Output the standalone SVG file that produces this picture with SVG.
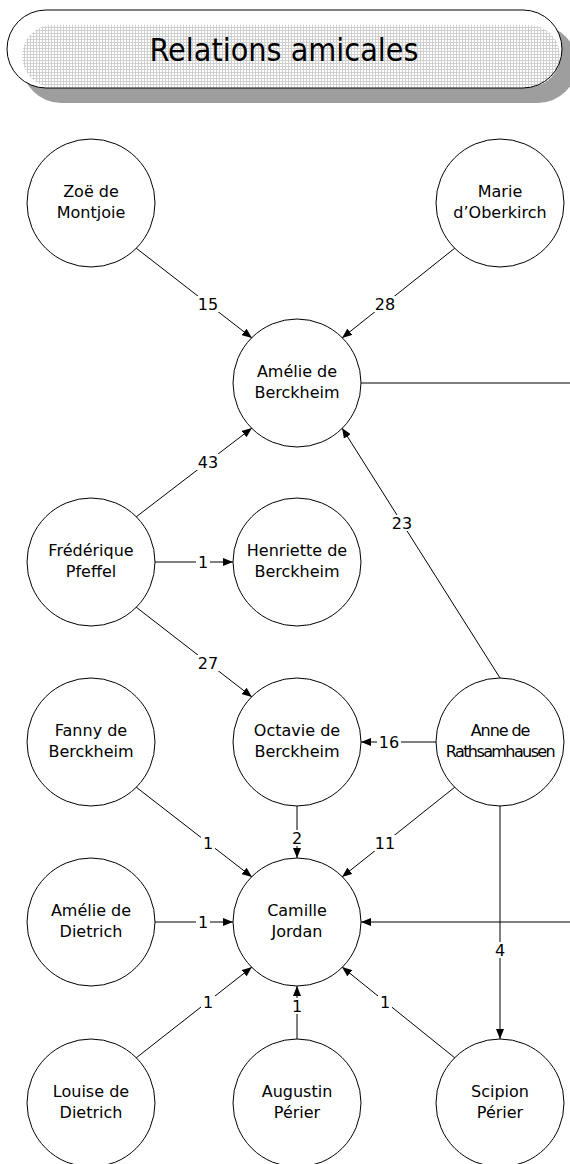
<svg xmlns="http://www.w3.org/2000/svg" width="570" height="1164" viewBox="0 0 570 1164">
  <style>
    .node circle { fill: #ffffff; stroke: #000000; stroke-width: 1; }
    .node text { font-family: "DejaVu Sans", Verdana, sans-serif; font-size: 16px; fill: #000000; text-anchor: middle; }
    .edge { stroke: #000000; stroke-width: 1; fill: none; }
    .arrow { marker-end: url(#head); }
    .lbl rect { fill: #ffffff; }
    .lbl text { font-family: "DejaVu Sans", Verdana, sans-serif; font-size: 16px; fill: #000000; text-anchor: middle; }
    .title { font-family: "DejaVu Sans Condensed", "DejaVu Sans", sans-serif; font-size: 32px; fill: #000000; text-anchor: middle; }
  </style>
  <defs>
    <marker id="head" markerUnits="userSpaceOnUse" markerWidth="10" markerHeight="8" refX="10" refY="4" orient="auto">
      <path d="M0,0 L10,4 L0,8 Z" fill="#000000"/>
    </marker>
    <pattern id="dots" patternUnits="userSpaceOnUse" width="3" height="3">
      <rect width="3" height="3" fill="#ffffff"/>
      <rect width="3" height="1" fill="#cfcfcf"/>
      <rect width="1" height="3" fill="#cfcfcf"/>
    </pattern>
  </defs>

  <rect width="570" height="1164" fill="#ffffff"/>

  <!-- title banner -->
  <g id="title">
    <rect x="22" y="25" width="555" height="78" rx="39" fill="#9e9e9e"/>
    <rect x="7" y="10" width="555" height="78" rx="39" fill="#ffffff"/>
    <rect x="22" y="25" width="538" height="62" rx="31" fill="url(#dots)"/>
    <rect x="7" y="10" width="555" height="78" rx="39" fill="none" stroke="#000000" stroke-width="1"/>
    <text class="title" x="284" y="61">Relations amicales</text>
  </g>

  <!-- connectors -->
  <g id="connectors">
    <line class="edge arrow" x1="136" y1="248" x2="252" y2="338"/>
    <line class="edge arrow" x1="455" y1="248" x2="342" y2="338"/>
    <line class="edge" x1="361" y1="383" x2="571" y2="383"/>
    <line class="edge arrow" x1="136" y1="517" x2="252" y2="428"/>
    <line class="edge arrow" x1="155" y1="562" x2="233" y2="562"/>
    <line class="edge arrow" x1="136" y1="607" x2="252" y2="697"/>
    <line class="edge arrow" x1="500" y1="678" x2="342" y2="428"/>
    <line class="edge arrow" x1="436" y1="742" x2="361" y2="742"/>
    <line class="edge arrow" x1="136" y1="787" x2="252" y2="877"/>
    <line class="edge arrow" x1="297" y1="806" x2="297" y2="858"/>
    <line class="edge arrow" x1="455" y1="787" x2="342" y2="877"/>
    <line class="edge arrow" x1="155" y1="922" x2="233" y2="922"/>
    <line class="edge arrow" x1="571" y1="922" x2="361" y2="922"/>
    <line class="edge arrow" x1="500" y1="806" x2="500" y2="1039"/>
    <line class="edge arrow" x1="136" y1="1058" x2="252" y2="967"/>
    <line class="edge arrow" x1="297" y1="1039" x2="297" y2="986"/>
    <line class="edge arrow" x1="455" y1="1058" x2="342" y2="967"/>

    <!-- weights, on a white knock-out box -->
    <g class="lbl"><rect x="196" y="296" width="24" height="16"/><text x="208" y="310">15</text></g>
    <g class="lbl"><rect x="373" y="296" width="24" height="16"/><text x="385" y="310">28</text></g>
    <g class="lbl"><rect x="196" y="454" width="24" height="16"/><text x="208" y="468">43</text></g>
    <g class="lbl"><rect x="196" y="554" width="14" height="16"/><text x="203" y="568">1</text></g>
    <g class="lbl"><rect x="196" y="655" width="24" height="16"/><text x="208" y="669">27</text></g>
    <g class="lbl"><rect x="390" y="515" width="24" height="16"/><text x="402" y="529">23</text></g>
    <g class="lbl"><rect x="377" y="734" width="24" height="16"/><text x="389" y="748">16</text></g>
    <g class="lbl"><rect x="201" y="835" width="14" height="16"/><text x="208" y="849">1</text></g>
    <g class="lbl"><rect x="290" y="830" width="14" height="16"/><text x="297" y="844">2</text></g>
    <g class="lbl"><rect x="373" y="835" width="24" height="16"/><text x="385" y="849">11</text></g>
    <g class="lbl"><rect x="196" y="914" width="14" height="16"/><text x="203" y="928">1</text></g>
    <g class="lbl"><rect x="493" y="942" width="14" height="16"/><text x="500" y="956">4</text></g>
    <g class="lbl"><rect x="201" y="994" width="14" height="16"/><text x="208" y="1008">1</text></g>
    <g class="lbl"><rect x="290" y="998" width="14" height="16"/><text x="297" y="1012">1</text></g>
    <g class="lbl"><rect x="378" y="994" width="14" height="16"/><text x="385" y="1008">1</text></g>
  </g>

  <!-- people -->
  <g id="zoe-de-montjoie" class="node">
    <circle cx="91" cy="203" r="64"/>
    <text x="91" y="197">Zoë de</text>
    <text x="91" y="218">Montjoie</text>
  </g>
  <g id="marie-doberkirch" class="node">
    <circle cx="500" cy="203" r="64"/>
    <text x="500" y="197">Marie</text>
    <text x="500" y="218">d’Oberkirch</text>
  </g>
  <g id="amelie-de-berckheim" class="node">
    <circle cx="297" cy="383" r="64"/>
    <text x="297" y="377">Amélie de</text>
    <text x="297" y="398">Berckheim</text>
  </g>
  <g id="frederique-pfeffel" class="node">
    <circle cx="91" cy="562" r="64"/>
    <text x="91" y="556">Frédérique</text>
    <text x="91" y="577">Pfeffel</text>
  </g>
  <g id="henriette-de-berckheim" class="node">
    <circle cx="297" cy="562" r="64"/>
    <text x="297" y="556">Henriette de</text>
    <text x="297" y="577">Berckheim</text>
  </g>
  <g id="fanny-de-berckheim" class="node">
    <circle cx="91" cy="742" r="64"/>
    <text x="91" y="736">Fanny de</text>
    <text x="91" y="757">Berckheim</text>
  </g>
  <g id="octavie-de-berckheim" class="node">
    <circle cx="297" cy="742" r="64"/>
    <text x="297" y="736">Octavie de</text>
    <text x="297" y="757">Berckheim</text>
  </g>
  <g id="anne-de-rathsamhausen" class="node">
    <circle cx="500" cy="742" r="64"/>
    <text x="500" y="736" letter-spacing="-1.1">Anne de</text>
    <text x="500" y="757" letter-spacing="-1.6">Rathsamhausen</text>
  </g>
  <g id="amelie-de-dietrich" class="node">
    <circle cx="91" cy="922" r="64"/>
    <text x="91" y="916">Amélie de</text>
    <text x="91" y="937">Dietrich</text>
  </g>
  <g id="camille-jordan" class="node">
    <circle cx="297" cy="922" r="64"/>
    <text x="297" y="916">Camille</text>
    <text x="297" y="937">Jordan</text>
  </g>
  <g id="louise-de-dietrich" class="node">
    <circle cx="91" cy="1103" r="64"/>
    <text x="91" y="1097">Louise de</text>
    <text x="91" y="1118">Dietrich</text>
  </g>
  <g id="augustin-perier" class="node">
    <circle cx="297" cy="1103" r="64"/>
    <text x="297" y="1097">Augustin</text>
    <text x="297" y="1118">Périer</text>
  </g>
  <g id="scipion-perier" class="node">
    <circle cx="500" cy="1103" r="64"/>
    <text x="500" y="1097">Scipion</text>
    <text x="500" y="1118">Périer</text>
  </g>
</svg>
